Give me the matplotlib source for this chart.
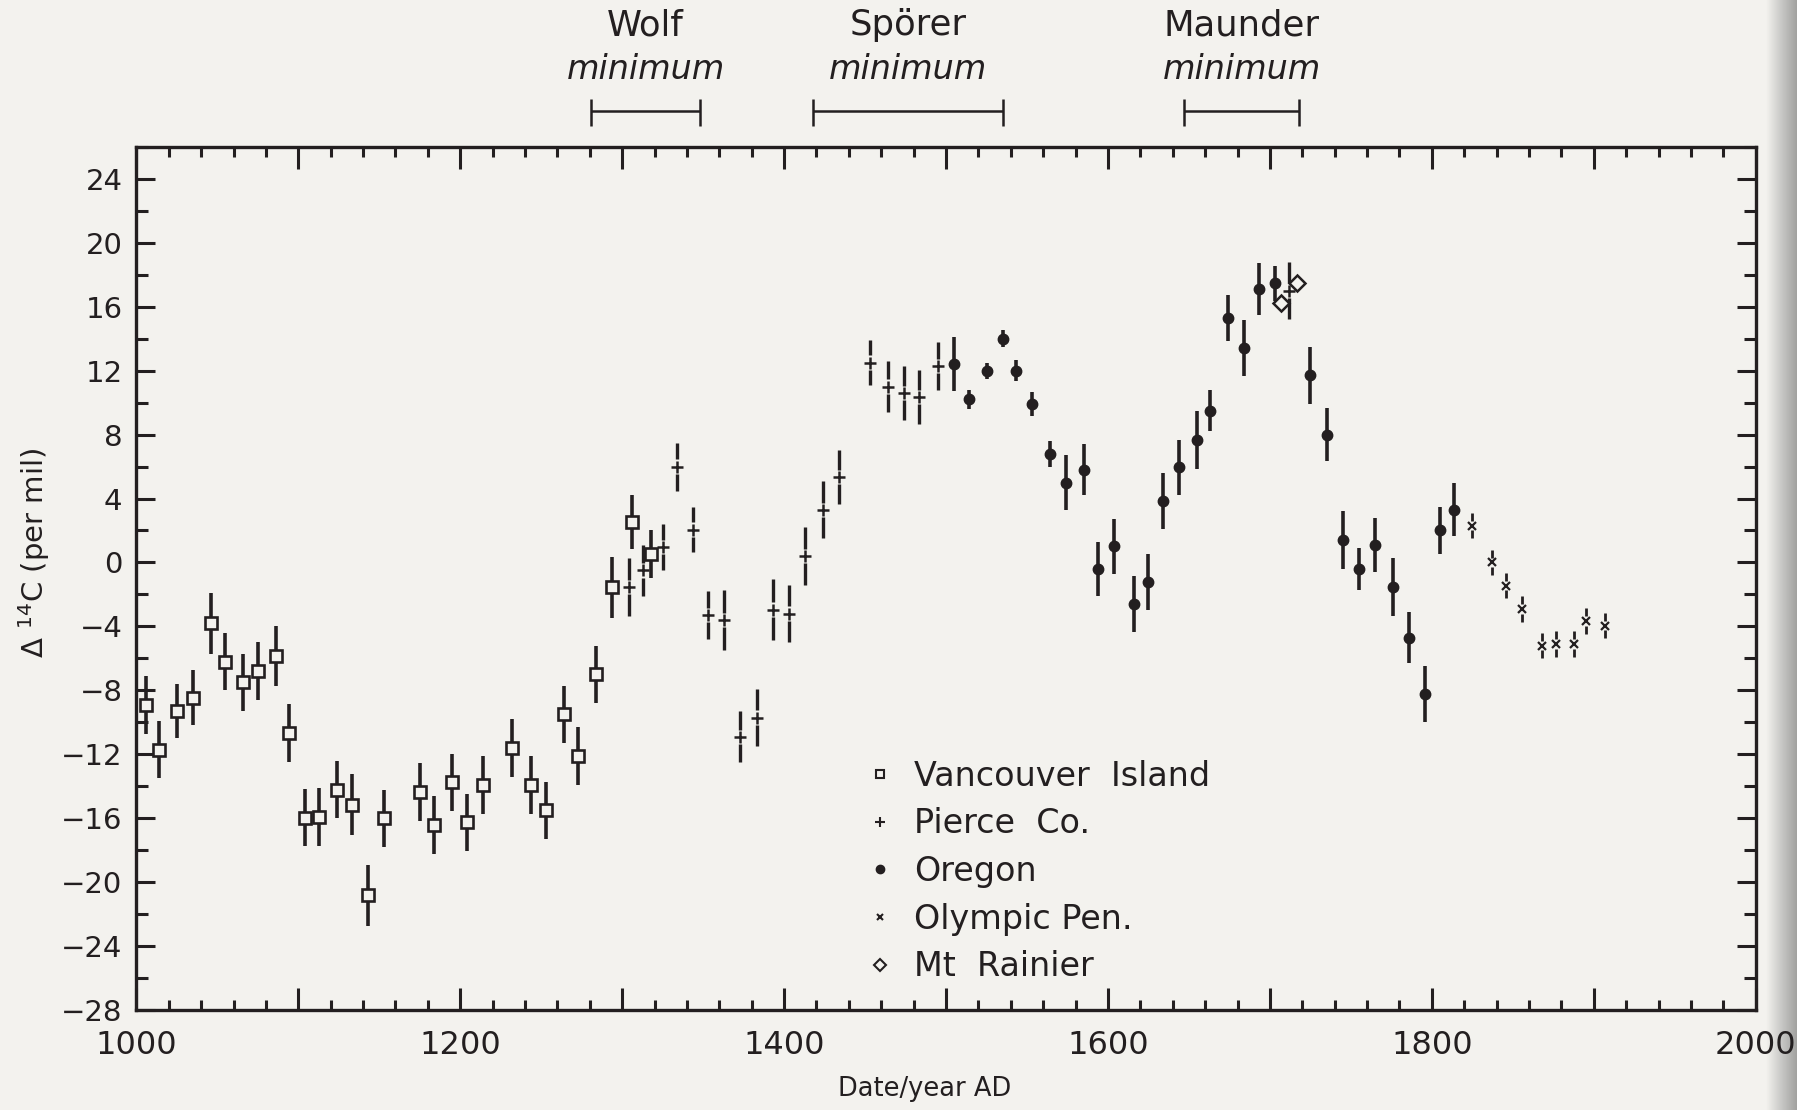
import numpy as np
import matplotlib.pyplot as plt
from matplotlib.lines import Line2D
from matplotlib.colors import LinearSegmentedColormap
from matplotlib.ticker import MultipleLocator, FuncFormatter

plt.rcParams['font.family'] = ['DejaVu Sans']
plt.rcParams['mathtext.fontset'] = 'dejavusans'

ink = '#231f20'
paper = '#f3f2ee'

# values (year AD, delta 14C per mil, 1 sigma)
van_year = [1006, 1014, 1025, 1035, 1046, 1055, 1066, 1075, 1086, 1094,
            1104, 1113, 1124, 1133, 1143, 1153, 1175, 1184, 1195, 1204,
            1214, 1232, 1244, 1253, 1264, 1273, 1284, 1294, 1306, 1318]
van_d14c = [-8.9, -11.7, -9.3, -8.45, -3.8, -6.2, -7.5, -6.8, -5.85, -10.65,
            -15.95, -15.9, -14.2, -15.15, -20.8, -16.0, -14.35, -16.4, -13.75, -16.25,
            -13.9, -11.6, -13.9, -15.5, -9.5, -12.1, -7.0, -1.55, 2.55, 0.55]
van_err = [1.8, 1.8, 1.7, 1.7, 1.9, 1.8, 1.8, 1.8, 1.9, 1.8,
           1.8, 1.8, 1.8, 1.9, 1.9, 1.8, 1.8, 1.8, 1.8, 1.8,
           1.8, 1.8, 1.8, 1.8, 1.8, 1.8, 1.8, 1.9, 1.7, 1.5]

pierce_year = [1304, 1313, 1325, 1334, 1344, 1353, 1363, 1373, 1383, 1393,
               1403, 1413, 1424, 1434, 1453, 1464, 1474, 1483, 1495, 1712]
pierce_d14c = [-1.55, -0.5, 0.95, 6.0, 2.05, -3.3, -3.6, -10.9, -9.7, -2.95,
               -3.2, 0.4, 3.3, 5.35, 12.5, 11.0, 10.6, 10.35, 12.3, 17.0]
pierce_err = [1.8, 1.6, 1.45, 1.5, 1.4, 1.5, 1.9, 1.6, 1.8, 1.9,
              1.8, 1.8, 1.8, 1.7, 1.4, 1.6, 1.7, 1.7, 1.5, 1.8]

oregon_year = [1505, 1514, 1525, 1535, 1543, 1553, 1564, 1574, 1585, 1594,
               1604, 1616, 1625, 1634, 1644, 1655, 1663, 1674, 1684, 1693,
               1703, 1725, 1735, 1745, 1755, 1765, 1776, 1786, 1796, 1805, 1814]
oregon_d14c = [12.4, 10.2, 12.0, 14.0, 12.0, 9.9, 6.8, 5.0, 5.8, -0.4,
               1.0, -2.6, -1.2, 3.85, 5.95, 7.65, 9.5, 15.3, 13.4, 17.1,
               17.45, 11.7, 8.0, 1.4, -0.4, 1.1, -1.55, -4.7, -8.2, 2.0, 3.3]
oregon_err = [1.7, 0.6, 0.5, 0.55, 0.65, 0.75, 0.8, 1.7, 1.6, 1.7,
              1.7, 1.75, 1.75, 1.75, 1.7, 1.8, 1.3, 1.45, 1.75, 1.6,
              1.1, 1.8, 1.65, 1.8, 1.3, 1.7, 1.8, 1.6, 1.75, 1.5, 1.65]

olympic_year = [1825, 1837, 1846, 1856, 1868, 1877, 1888, 1895, 1907]
olympic_d14c = [2.3, 0.0, -1.45, -2.9, -5.2, -5.1, -5.1, -3.65, -3.95]
olympic_err = [0.8, 0.8, 0.8, 0.8, 0.8, 0.8, 0.8, 0.8, 0.8]

rainier_year = [1707, 1717]
rainier_d14c = [16.2, 17.45]

minima_name = ['Wolf', 'Spörer', 'Maunder']
minima_start = [1281, 1418, 1647]
minima_end = [1348, 1535, 1718]

legend_labels = ['Vancouver  Island', 'Pierce  Co.', 'Oregon', 'Olympic Pen.', 'Mt  Rainier']

fig = plt.figure(figsize=(17.97, 11.10), dpi=100, facecolor=paper)
ax = fig.add_axes([0.0759, 0.0898, 0.9770 - 0.0759, 0.8679 - 0.0898])
ax.set_facecolor(paper)

# scanner shadow along the right edge of the page
shadow_cmap = LinearSegmentedColormap.from_list('shadow', [paper, '#c8c8c6', '#a2a2a0'])
shade = fig.add_axes([0.983, 0, 0.017, 1], zorder=-1)
shade.imshow(np.linspace(0, 1, 50)[None, :], aspect='auto', cmap=shadow_cmap,
             extent=(0, 1, 0, 1))
shade.set_axis_off()


def gapped_bars(x, y, err, gap, lw):
    # vertical error bars broken around the marker, as in the original
    x = np.asarray(x)
    y = np.asarray(y)
    err = np.asarray(err)
    ax.vlines(x, y - err, y - gap, color=ink, lw=lw, zorder=2)
    ax.vlines(x, y + gap, y + err, color=ink, lw=lw, zorder=2)


# Vancouver Island
ax.errorbar(van_year, van_d14c, yerr=van_err, fmt='s', ms=8.5, mfc=paper, mec=ink,
            mew=1.9, ecolor=ink, elinewidth=2.6, capsize=0, zorder=3)

# Pierce Co.
gapped_bars(pierce_year, pierce_d14c, pierce_err, 0.45, 2.4)
ax.plot(pierce_year, pierce_d14c, '+', ms=9, mew=1.8, color=ink, zorder=3)

# Oregon
ax.errorbar(oregon_year, oregon_d14c, yerr=oregon_err, fmt='o', ms=7.5, color=ink,
            elinewidth=2.6, capsize=0, zorder=3)

# Olympic Pen.
gapped_bars(olympic_year, olympic_d14c, olympic_err, 0.3, 2.0)
ax.plot(olympic_year, olympic_d14c, 'x', ms=6, mew=1.6, color=ink, zorder=3)

# Mt Rainier
ax.plot(rainier_year, rainier_d14c, 'D', ms=8, mfc=paper, mec=ink, mew=1.8,
        ls='none', zorder=4)

# solar minima brackets above the frame
for name, x0, x1 in zip(minima_name, minima_start, minima_end):
    ax.hlines(28.2, x0, x1, color=ink, lw=1.8, clip_on=False)
    ax.vlines([x0, x1], 27.3, 29.0, color=ink, lw=1.8, clip_on=False)
    xc = (x0 + x1) / 2
    ax.text(xc, 33.6, name, ha='center', va='center', fontsize=25.5, color=ink)
    ax.text(xc, 30.8, 'minimum', ha='center', va='center', fontsize=24,
            style='italic', color=ink)

ax.set_xlim(1000, 2000)
ax.set_ylim(-28, 26)
ax.xaxis.set_major_locator(MultipleLocator(100))
ax.xaxis.set_minor_locator(MultipleLocator(20))
ax.xaxis.set_major_formatter(FuncFormatter(lambda v, p: f'{int(round(v))}' if int(round(v)) % 200 == 0 else ''))
ax.yaxis.set_major_locator(MultipleLocator(4))
ax.yaxis.set_minor_locator(MultipleLocator(2))

ax.tick_params(which='both', direction='in', top=True, right=True, color=ink, width=2.2,
               labelcolor=ink)
ax.tick_params(axis='x', which='major', length=16, pad=14, labelsize=23)
ax.tick_params(axis='x', which='minor', length=7)
ax.tick_params(axis='y', which='major', length=14, pad=10, labelsize=21)
ax.tick_params(axis='y', which='minor', length=8.5)
for s in ax.spines.values():
    s.set_linewidth(2.4)
    s.set_color(ink)

ax.set_xlabel('Date/year AD', fontsize=18.5, color=ink)
ax.xaxis.set_label_coords(0.487, -0.0766)
ax.set_ylabel('Δ $^{14}$C (per mil)', fontsize=21, color=ink)
ax.yaxis.set_label_coords(-0.052, 0.53)

handles = [
    Line2D([], [], ls='none', marker='s', ms=6, mfc=paper, mec=ink, mew=1.5),
    Line2D([], [], ls='none', marker='+', ms=7, mew=1.5, color=ink),
    Line2D([], [], ls='none', marker='o', ms=6, color=ink),
    Line2D([], [], ls='none', marker='x', ms=5, mew=1.5, color=ink),
    Line2D([], [], ls='none', marker='D', ms=6, mfc=paper, mec=ink, mew=1.5),
]
leg = ax.legend(handles, legend_labels, loc='upper left', bbox_to_anchor=(0.4508, 0.2904),
                frameon=False, fontsize=24, handlelength=0.8, handletextpad=0.64,
                labelspacing=0.44, borderpad=0, borderaxespad=0)
for t in leg.get_texts():
    t.set_color(ink)

fig.savefig('out.png', dpi=100, facecolor=paper)
